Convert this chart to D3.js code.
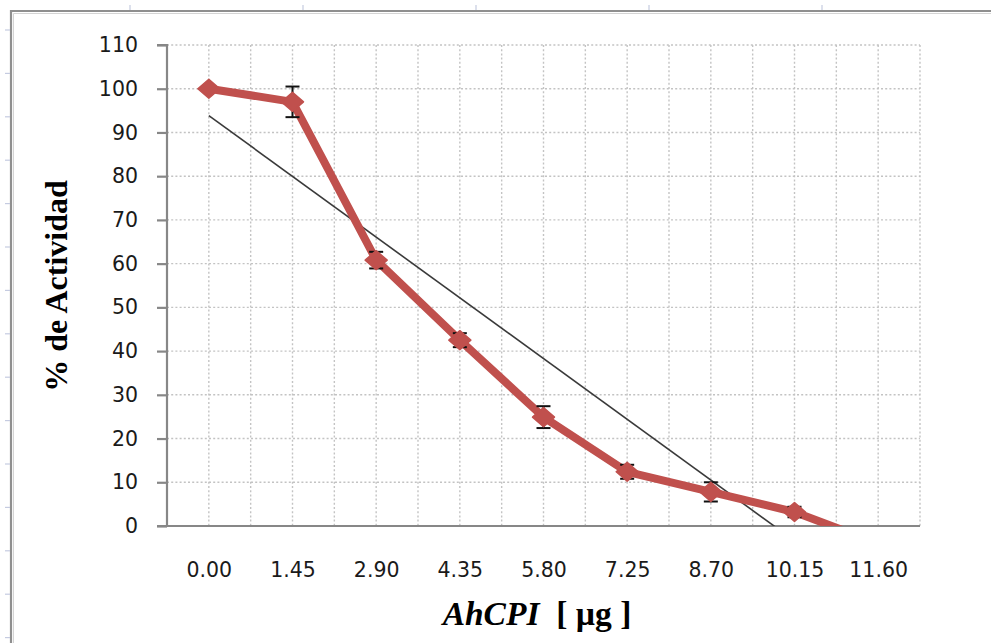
<!DOCTYPE html>
<html>
<head>
<meta charset="utf-8">
<script src="https://cdn.jsdelivr.net/npm/d3@7"></script>
<style>
  html, body { margin: 0; padding: 0; background: #fff; }
  svg { display: block; }
</style>
</head>
<body>
<svg id="chart" width="991" height="643"></svg>
<script>
// Inhibitor dose (µg) and remaining enzyme activity (%)
const doses = ["0.00", "1.45", "2.90", "4.35", "5.80", "7.25", "8.70", "10.15", "11.60"];
const activity = [100, 97.0, 60.8, 42.5, 24.9, 12.4, 7.8, 3.2, -4.0];
const activityErr = [0, 3.5, 1.9, 1.6, 2.5, 1.6, 2.2, 1.2, 1.5];
const yTicks = [0, 10, 20, 30, 40, 50, 60, 70, 80, 90, 100, 110];

const svg = d3.select("#chart");
const W = 991, H = 643;
const plot = { left: 167, right: 920, top: 45, bottom: 526 };

const x = d3.scalePoint().domain(doses).range([plot.left, plot.right]).padding(0.5);
const y = d3.scaleLinear().domain([0, 110]).range([plot.bottom, plot.top]);

// Page frame around the embedded chart
const frame = svg.append("g");
frame.append("path")
  .attr("d", `M11,${H} L11,11 L${W},11`)
  .attr("fill", "none").attr("stroke", "#8f8f8f").attr("stroke-width", 2.2);
frame.append("path")
  .attr("d", `M13.5,${H} L13.5,13.5 L${W},13.5`)
  .attr("fill", "none").attr("stroke", "#d4d4d4").attr("stroke-width", 1);
// ruler marks along the frame edges
frame.selectAll("line.rt").data(d3.range(130, W, 173)).join("line")
  .attr("x1", d => d).attr("x2", d => d).attr("y1", 5).attr("y2", 10)
  .attr("stroke", "#c5cbe0").attr("stroke-width", 1.2);
frame.selectAll("line.rl").data(d3.range(30, H, 43.4)).join("line")
  .attr("x1", 5).attr("x2", 10).attr("y1", d => d).attr("y2", d => d)
  .attr("stroke", "#c5cbe0").attr("stroke-width", 1.2);

// Gridlines
const step = x.step();
const grid = svg.append("g").attr("stroke", "#c3c3c3").attr("stroke-width", 1.4)
  .attr("stroke-dasharray", "2,2.2");
grid.selectAll("line.h").data(yTicks.filter(t => t > 0)).join("line")
  .attr("x1", plot.left).attr("x2", plot.right)
  .attr("y1", d => y(d)).attr("y2", d => y(d));
const vPos = d3.range(1, doses.length * 2 + 1).map(i => plot.left + i * step / 2);
grid.selectAll("line.v").data(vPos).join("line")
  .attr("x1", d => d).attr("x2", d => d)
  .attr("y1", plot.top).attr("y2", plot.bottom);

// Axes
const axisColor = "#878787";
const yAxis = svg.append("g").attr("transform", `translate(${plot.left},0)`)
  .call(d3.axisLeft(y).tickValues(yTicks).tickSize(10).tickPadding(19).tickFormat(d3.format("d")));
yAxis.select(".domain").attr("stroke", axisColor).attr("stroke-width", 2.2)
  .attr("d", `M-10,${plot.top}H0V${plot.bottom}`);
yAxis.selectAll(".tick line").attr("stroke", axisColor).attr("stroke-width", 2.2);
yAxis.selectAll(".tick text")
  .attr("font-family", "DejaVu Sans, Verdana, sans-serif").attr("font-size", 20.5)
  .attr("fill", "#1a1a1a");

const xAxis = svg.append("g").attr("transform", `translate(0,${plot.bottom})`)
  .call(d3.axisBottom(x).tickSize(0).tickPadding(36));
xAxis.select(".domain").attr("stroke", axisColor).attr("stroke-width", 2.2)
  .attr("d", `M${plot.left - 10},0H${plot.right}`);
xAxis.selectAll(".tick text")
  .attr("font-family", "DejaVu Sans, Verdana, sans-serif").attr("font-size", 20.5)
  .attr("fill", "#1a1a1a");

// Clip for the data marks
svg.append("clipPath").attr("id", "plotClip").append("rect")
  .attr("x", plot.left).attr("y", plot.top - 20)
  .attr("width", plot.right - plot.left).attr("height", plot.bottom - plot.top + 20);
const marks = svg.append("g").attr("clip-path", "url(#plotClip)");

// Linear trendline fitted over the series (x = 1..n)
const n = activity.length;
const xi = d3.range(1, n + 1);
const mx = d3.mean(xi), my = d3.mean(activity);
const slope = d3.sum(xi, (v, i) => (v - mx) * (activity[i] - my)) / d3.sum(xi, v => (v - mx) ** 2);
const icpt = my - slope * mx;
marks.append("line")
  .attr("x1", x(doses[0])).attr("y1", y(icpt + slope * 1))
  .attr("x2", x(doses[n - 1])).attr("y2", y(icpt + slope * n))
  .attr("stroke", "#3a3a3a").attr("stroke-width", 1.6);

// Red series line
const pts = doses.map((d, i) => ({ d, v: activity[i], e: activityErr[i] }));
marks.append("path").datum(pts)
  .attr("fill", "none").attr("stroke", "#c0504d").attr("stroke-width", 8)
  .attr("stroke-linejoin", "round")
  .attr("d", d3.line().x(p => x(p.d)).y(p => y(p.v)));

// Error bars
const eb = marks.append("g").attr("stroke", "#111").attr("stroke-width", 2);
const withErr = pts.filter(p => p.e > 0);
eb.selectAll("line.s").data(withErr).join("line")
  .attr("x1", p => x(p.d)).attr("x2", p => x(p.d))
  .attr("y1", p => y(p.v + p.e)).attr("y2", p => y(p.v - p.e));
eb.selectAll("line.t").data(withErr).join("line")
  .attr("x1", p => x(p.d) - 7).attr("x2", p => x(p.d) + 7)
  .attr("y1", p => y(p.v + p.e)).attr("y2", p => y(p.v + p.e));
eb.selectAll("line.b").data(withErr).join("line")
  .attr("x1", p => x(p.d) - 7).attr("x2", p => x(p.d) + 7)
  .attr("y1", p => y(p.v - p.e)).attr("y2", p => y(p.v - p.e));

// Diamond markers
marks.selectAll("path.m").data(pts).join("path")
  .attr("fill", "#c0504d").attr("stroke", "#c0504d").attr("stroke-width", 1.5)
  .attr("stroke-linejoin", "round")
  .attr("d", p => {
    const cx = x(p.d), cy = y(p.v);
    return `M${cx},${cy - 9.5}L${cx + 11},${cy}L${cx},${cy + 9.5}L${cx - 11},${cy}Z`;
  });

// Axis titles
svg.append("text")
  .attr("transform", "translate(67,286) rotate(-90)")
  .attr("text-anchor", "middle")
  .attr("font-family", "Liberation Serif, Times New Roman, serif")
  .attr("font-weight", "bold").attr("font-size", 32).attr("fill", "#000")
  .text("% de Actividad");

const xt = svg.append("text")
  .attr("x", 537).attr("y", 625)
  .attr("text-anchor", "middle")
  .attr("font-family", "Liberation Serif, Times New Roman, serif")
  .attr("font-weight", "bold").attr("font-size", 33.5).attr("fill", "#000");
xt.append("tspan").attr("font-style", "italic").text("AhCPI");
xt.append("tspan").text("\u00a0 [ µg ]");
</script>
</body>
</html>
